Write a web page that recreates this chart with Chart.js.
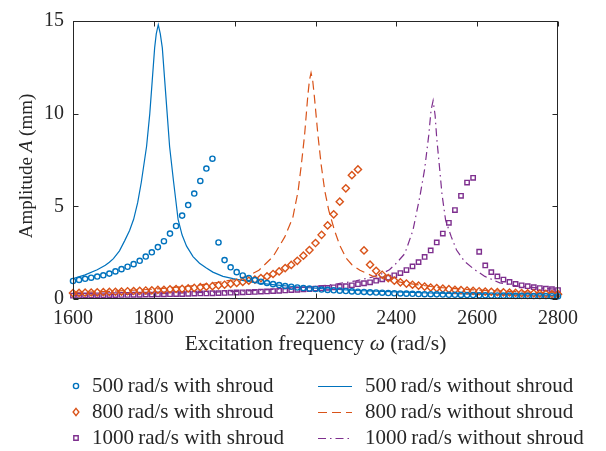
<!DOCTYPE html>
<html lang="en">
<head>
<meta charset="UTF-8" />
<title>Amplitude vs excitation frequency</title>
<script src="https://cdn.jsdelivr.net/npm/chart.js"></script>
<style>
  html, body { margin: 0; padding: 0; background: #fff; }
  #wrap { width: 606px; height: 451px; }
</style>
</head>
<body>
<div id="wrap"><canvas id="ampChart" width="606" height="451"></canvas></div>
<script>
// frequency grid of the "with shroud" points (rad/s)
const shroudFreq = [1600,1615,1630,1645,1660,1675,1690,1705,1720,1735,1750,1765,1780,1795,1810,1825,1840,1855,1870,1885,
  1900,1915,1930,1945,1960,1975,1990,2005,2020,2035,2050,2065,2080,2095,2110,2125,2140,2155,2170,2185,
  2200,2215,2230,2245,2260,2275,2290,2305,2320,2335,2350,2365,2380,2395,2410,2425,2440,2455,2470,2485,
  2500,2515,2530,2545,2560,2575,2590,2605,2620,2635,2650,2665,2680,2695,2710,2725,2740,2755,2770,2785,2800];

const amp500With = [0.97,1.03,1.09,1.15,1.21,1.28,1.37,1.49,1.61,1.74,1.88,2.06,2.29,2.52,2.80,3.12,3.53,3.94,4.50,5.07,
  5.69,6.37,7.04,7.57,3.05,2.10,1.71,1.45,1.27,1.13,1.02,0.93,0.86,0.80,0.75,0.70,0.66,0.62,0.59,0.56,
  0.54,0.51,0.49,0.47,0.45,0.43,0.41,0.39,0.38,0.36,0.35,0.34,0.32,0.31,0.30,0.29,0.28,0.27,0.26,0.26,
  0.25,0.24,0.23,0.23,0.22,0.21,0.21,0.20,0.20,0.19,0.19,0.18,0.18,0.17,0.17,0.17,0.16,0.16,0.16,0.15,0.15];

const amp800With = [0.32,0.33,0.34,0.35,0.36,0.37,0.38,0.39,0.40,0.42,0.43,0.44,0.46,0.47,0.49,0.50,0.52,0.54,0.55,0.57,
  0.60,0.64,0.66,0.69,0.74,0.77,0.82,0.87,0.92,0.99,1.05,1.13,1.22,1.35,1.49,1.67,1.84,2.06,2.34,2.64,
  3.02,3.46,3.97,4.57,5.25,5.97,6.68,6.99,2.62,1.85,1.52,1.31,1.13,0.99,0.90,0.83,0.77,0.72,0.67,0.62,
  0.59,0.56,0.53,0.50,0.48,0.46,0.44,0.42,0.40,0.39,0.37,0.36,0.35,0.33,0.32,0.31,0.30,0.29,0.28,0.27,0.26];

const amp1000With = [0.18,0.18,0.19,0.19,0.20,0.20,0.21,0.21,0.22,0.22,0.23,0.23,0.24,0.24,0.25,0.25,0.26,0.27,0.27,0.28,
  0.29,0.30,0.30,0.31,0.32,0.33,0.34,0.35,0.36,0.37,0.38,0.40,0.41,0.43,0.44,0.46,0.48,0.50,0.52,0.54,
  0.56,0.58,0.60,0.63,0.66,0.69,0.74,0.80,0.85,0.90,0.99,1.06,1.15,1.28,1.40,1.56,1.76,1.99,2.27,2.62,
  3.05,3.53,4.11,4.80,5.57,6.28,6.54,2.55,1.81,1.45,1.22,1.05,0.92,0.81,0.74,0.69,0.64,0.59,0.56,0.53,0.48];

// "without shroud" curves
const freq500Without = [1600,1630,1660,1680,1690,1700,1715,1728,1740,1750,1760,1769,1782,1790,1796,1802,1806,1811,1816,1821,1827,1833,
  1839,1849,1860,1870,1881,1897,1913,1930,1946,1971,1996,2029,2060,2100,2150,2200,2300,2400,2500,2600,2700,2800];
const amp500Without = [1.10,1.30,1.58,1.82,1.98,2.18,2.60,3.15,3.70,4.30,5.20,6.30,8.23,10.0,11.77,13.55,14.3,14.8,14.3,13.55,11.77,10.0,
  8.23,6.30,4.30,3.45,2.85,2.29,1.93,1.67,1.45,1.22,1.10,0.96,0.86,0.76,0.66,0.58,0.46,0.38,0.31,0.26,0.22,0.19];

const freq800Without = [1600,1700,1800,1900,1960,2000,2030,2060,2095,2124,2144,2157,2165,2173,2181,2185,2189,2193,2197,2206,
  2214,2223,2233,2247,2260,2276,2290,2310,2340,2380,2420,2500,2600,2700,2800];
const amp800Without = [0.35,0.42,0.53,0.72,0.90,1.05,1.22,1.55,2.29,3.35,4.41,5.83,7.25,8.85,10.97,11.8,12.2,11.8,10.97,8.85,
  7.25,5.83,4.77,3.70,2.90,2.20,1.85,1.55,1.25,1.02,0.87,0.63,0.48,0.39,0.33];

const freq1000Without = [1600,1800,2000,2100,2200,2250,2300,2340,2363,2383,2400,2421,2441,2458,2470,2480,2486,2491,2496,2500,
  2507,2513,2522,2536,2549,2569,2594,2619,2656,2700,2750,2800];
const amp1000Without = [0.20,0.28,0.40,0.52,0.68,0.80,0.98,1.18,1.35,1.58,1.93,2.45,3.70,5.50,7.00,8.80,10.2,10.7,9.9,8.67,
  7.07,5.65,4.24,3.35,2.64,2.02,1.58,1.22,0.87,0.70,0.60,0.52];

const xTicks = [1600, 1800, 2000, 2200, 2400, 2600, 2800];
const yTicks = [0, 5, 10, 15];

const FONT = "'Liberation Serif', 'Times New Roman', serif";
const INK = '#262626';
const BLUE = '#0072BD', RED = '#D95319', PURPLE = '#7E2F8E';

const pts = (xs, ys) => xs.map((v, i) => ({ x: v, y: ys[i] }));

function markerSet(label, ys, color, style, radius, col, row) {
  return {
    label, data: pts(shroudFreq, ys), showLine: false,
    pointStyle: style, pointRadius: radius, pointBorderWidth: 1.4,
    borderColor: color, backgroundColor: 'rgba(0,0,0,0)',
    clip: false, order: 1, legendCol: col, legendRow: row
  };
}
function lineSet(label, xs, ys, color, dash, col, row) {
  return {
    label, data: pts(xs, ys), showLine: true, pointRadius: 0,
    borderColor: color, borderWidth: 1.2, borderDash: dash, tension: 0,
    fill: false, order: 2, legendCol: col, legendRow: row
  };
}

// mixed upright / italic text centred at 0,0
function drawRich(ctx, parts, size) {
  const fonts = parts.map(p => (p[1] ? 'italic ' : '') + size + 'px ' + FONT);
  let total = 0;
  const widths = parts.map((p, i) => { ctx.font = fonts[i]; const w = ctx.measureText(p[0]).width; total += w; return w; });
  let x = -total / 2;
  parts.forEach((p, i) => { ctx.font = fonts[i]; ctx.fillText(p[0], x, 0); x += widths[i]; });
}

const decor = {
  id: 'decor',
  afterDraw(chart) {
    const { ctx, chartArea: a, scales: { x, y } } = chart;
    ctx.save();
    ctx.strokeStyle = INK;
    ctx.lineWidth = 1;
    const L = Math.round(a.left) + 0.5, R = Math.round(a.right) - 0.5;
    const T = Math.round(a.top) + 0.5, B = Math.round(a.bottom) - 0.5;
    ctx.strokeRect(L, T, R - L, B - T);
    ctx.beginPath();
    xTicks.forEach(v => {
      const px = Math.round(x.getPixelForValue(v)) + 0.5;
      ctx.moveTo(px, B); ctx.lineTo(px, B - 5);
      ctx.moveTo(px, T); ctx.lineTo(px, T + 5);
    });
    yTicks.forEach(v => {
      const py = Math.round(y.getPixelForValue(v)) + 0.5;
      ctx.moveTo(L, py); ctx.lineTo(L + 5, py);
      ctx.moveTo(R, py); ctx.lineTo(R - 5, py);
    });
    ctx.stroke();

    // axis titles
    ctx.fillStyle = INK;
    ctx.textBaseline = 'middle';
    ctx.textAlign = 'left';
    ctx.save();
    ctx.translate((a.left + a.right) / 2, 344);
    drawRich(ctx, [['Excitation frequency ', false], ['\u03C9', true], [' (rad/s)', false]], 21.5);
    ctx.restore();
    ctx.save();
    ctx.translate(27, (a.top + a.bottom) / 2 + 6);
    ctx.rotate(-Math.PI / 2);
    drawRich(ctx, [['Amplitude ', false], ['A', true], [' (mm)', false]], 19);
    ctx.restore();

    // legend, two columns
    const rowY = [386, 412, 438];
    const colX = [76, 318];
    const textX = [92, 365];
    chart.data.datasets.forEach(ds => {
      const yy = rowY[ds.legendRow];
      const cx = colX[ds.legendCol];
      ctx.strokeStyle = ds.borderColor;
      if (ds.legendCol === 0) {
        ctx.lineWidth = 1.4;
        ctx.setLineDash([]);
        ctx.beginPath();
        const r = ds.pointRadius;
        if (ds.pointStyle === 'circle') ctx.arc(cx, yy, r, 0, Math.PI * 2);
        else if (ds.pointStyle === 'rectRot') { ctx.moveTo(cx, yy - r); ctx.lineTo(cx + r * 0.8, yy); ctx.lineTo(cx, yy + r); ctx.lineTo(cx - r * 0.8, yy); ctx.closePath(); }
        else { const h = r * Math.SQRT1_2; ctx.rect(cx - h, yy - h, 2 * h, 2 * h); }
        ctx.stroke();
      } else {
        ctx.lineWidth = ds.borderWidth;
        ctx.setLineDash(ds.borderDash || []);
        ctx.beginPath();
        ctx.moveTo(cx, yy + 0.5); ctx.lineTo(cx + 34, yy + 0.5);
        ctx.stroke();
        ctx.setLineDash([]);
      }
      ctx.fillStyle = INK;
      ctx.textAlign = 'left';
      ctx.font = '21px ' + FONT;
      ctx.fillText(ds.label, textX[ds.legendCol], yy);
    });
    ctx.restore();
  }
};

const datasets = [
  markerSet('500\u2009rad/s with shroud', amp500With, BLUE, 'circle', 2.6, 0, 0),
  markerSet('800\u2009rad/s with shroud', amp800With, RED, 'rectRot', 3.6, 0, 1),
  markerSet('1000\u2009rad/s with shroud', amp1000With, PURPLE, 'rect', 3.1, 0, 2),
  lineSet('500\u2009rad/s without shroud', freq500Without, amp500Without, BLUE, [], 1, 0),
  lineSet('800\u2009rad/s without shroud', freq800Without, amp800Without, RED, [9, 5], 1, 1),
  lineSet('1000\u2009rad/s without shroud', freq1000Without, amp1000Without, PURPLE, [8, 4, 1.5, 4], 1, 2)
];

new Chart(document.getElementById('ampChart'), {
  type: 'scatter',
  data: { datasets },
  options: {
    responsive: false,
    animation: false,
    layout: { padding: { top: 16, right: 48, left: 0, bottom: 0 } },
    plugins: { legend: { display: false }, tooltip: { enabled: false } },
    scales: {
      x: {
        type: 'linear', min: 1600, max: 2800,
        afterBuildTicks: s => { s.ticks = xTicks.map(v => ({ value: v })); },
        afterFit: s => { s.height = 152; },
        grid: { display: false, drawTicks: false },
        border: { display: false },
        ticks: { color: INK, font: { family: FONT, size: 20 }, padding: 8, maxRotation: 0, callback: v => String(v) }
      },
      y: {
        type: 'linear', min: 0, max: 15,
        afterBuildTicks: s => { s.ticks = yTicks.map(v => ({ value: v })); },
        afterFit: s => { s.width = 73; },
        grid: { display: false, drawTicks: false },
        border: { display: false },
        ticks: { color: INK, font: { family: FONT, size: 20 }, padding: 9, callback: v => String(v) }
      }
    }
  },
  plugins: [decor]
});
</script>
</body>
</html>
